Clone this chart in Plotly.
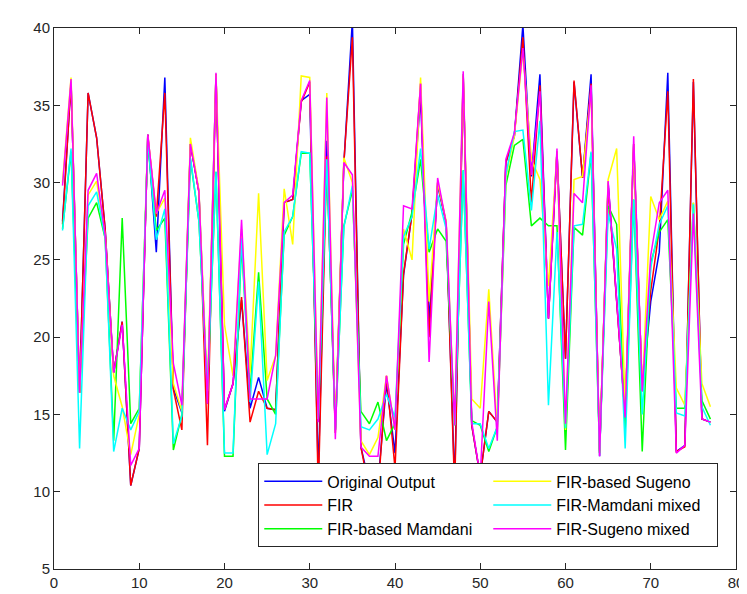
import plotly.graph_objects as go

x_vals = list(range(1, 78))

original_output = [27.5, 36.5, 16.4, 35.8, 32.9, 27.0, 17.7, 21.0, 10.4, 12.8,
                   33.1, 25.5, 36.8, 16.7, 15.1, 32.5, 29.4, 15.7, 37.0, 15.2,
                   17.0, 22.4, 15.4, 17.4, 15.4, 15.3, 28.7, 28.9, 35.3, 35.7,
                   11.0, 32.7, 14.0, 31.2, 40.5, 12.9, 10.5, 10.5, 17.0, 12.5,
                   24.0, 28.0, 35.5, 21.0, 29.8, 27.4, 10.5, 37.0, 14.3, 11.0,
                   15.2, 14.5, 31.3, 33.0, 40.2, 30.4, 37.0, 21.2, 32.0, 18.6,
                   36.5, 30.3, 37.0, 12.3, 30.0, 22.5, 14.8, 32.5, 16.5, 22.3,
                   25.5, 37.1, 12.6, 13.0, 36.5, 14.7, 14.5]

fir = [27.3, 36.5, 16.4, 35.8, 32.9, 27.0, 17.7, 21.0, 10.4, 12.8,
       33.1, 27.8, 35.8, 16.6, 14.0, 32.5, 29.4, 13.0, 37.0, 15.3,
       17.0, 22.6, 14.5, 16.5, 15.4, 15.3, 28.7, 28.9, 35.2, 36.5,
       10.0, 31.7, 13.8, 31.3, 39.4, 12.9, 10.0, 10.0, 17.5, 11.5,
       24.1, 28.0, 36.4, 20.0, 30.0, 27.4, 10.0, 36.9, 14.3, 11.0,
       15.2, 14.5, 31.3, 33.0, 39.4, 28.7, 36.3, 21.2, 32.0, 18.6,
       36.6, 30.3, 36.4, 12.6, 29.8, 22.5, 14.8, 32.5, 16.5, 23.0,
       27.0, 35.9, 12.6, 12.9, 36.7, 14.7, 14.5]

fir_mamdani = [27.0, 32.0, 16.4, 27.7, 28.7, 26.4, 13.3, 27.7, 14.4, 15.4,
               32.5, 26.9, 27.7, 12.7, 15.0, 31.5, 27.5, 16.5, 30.7, 12.3,
               12.3, 26.0, 16.5, 24.2, 16.0, 15.0, 26.6, 27.8, 31.9, 31.9,
               14.7, 31.5, 14.0, 27.2, 29.5, 15.2, 14.4, 15.8, 13.3, 14.4,
               26.0, 28.1, 31.5, 25.5, 27.0, 26.2, 14.3, 30.8, 14.6, 14.3,
               12.6, 14.2, 29.8, 32.4, 32.8, 27.2, 27.7, 27.2, 27.2, 12.7,
               27.1, 26.6, 31.9, 12.5, 28.5, 27.3, 14.0, 28.9, 12.6, 24.8,
               26.8, 27.6, 15.4, 15.4, 28.7, 15.9, 14.7]

fir_sugeno = [30.0, 36.8, 16.4, 29.2, 30.1, 26.6, 17.5, 15.5, 12.4, 15.0,
              33.0, 28.0, 29.0, 17.0, 15.2, 32.9, 29.5, 16.5, 37.0, 20.8,
              17.5, 27.0, 17.7, 29.3, 17.2, 18.8, 29.6, 26.0, 36.9, 36.8,
              14.7, 35.8, 14.0, 31.6, 30.0, 13.3, 12.4, 13.5, 17.5, 14.0,
              27.0, 25.0, 36.8, 22.3, 30.0, 27.5, 14.3, 37.0, 16.0, 15.4,
              23.1, 14.0, 30.3, 33.0, 38.5, 31.5, 30.2, 23.3, 32.0, 14.0,
              30.2, 30.4, 36.0, 12.5, 30.2, 32.2, 15.5, 32.5, 16.5, 29.1,
              27.6, 28.8, 16.7, 15.6, 28.7, 17.0, 15.5]

fir_mamdani_mixed = [26.9, 32.2, 12.8, 28.5, 29.4, 26.4, 12.6, 15.4, 14.0, 15.2,
                     32.8, 26.3, 28.3, 13.1, 14.9, 31.6, 27.5, 16.6, 30.7, 12.5,
                     12.5, 26.4, 15.8, 23.6, 12.4, 14.4, 26.8, 27.8, 32.0, 31.9,
                     14.7, 31.5, 14.0, 27.1, 29.8, 14.2, 14.0, 14.7, 16.3, 14.8,
                     26.5, 27.8, 32.2, 25.7, 29.2, 27.0, 14.3, 30.8, 14.4, 14.4,
                     12.8, 14.2, 30.5, 33.3, 33.4, 28.2, 34.0, 15.6, 26.8, 14.1,
                     27.2, 27.3, 32.0, 12.5, 28.0, 25.7, 12.8, 28.9, 15.0, 24.5,
                     27.3, 28.5, 15.1, 14.9, 28.6, 15.5, 14.3]

fir_sugeno_mixed = [29.8, 36.7, 16.4, 29.5, 30.6, 26.6, 17.7, 20.8, 11.7, 12.8,
                    33.1, 28.0, 29.5, 18.3, 15.6, 32.5, 29.4, 15.7, 37.1, 15.3,
                    17.0, 27.6, 16.0, 16.0, 16.0, 18.8, 28.7, 29.2, 35.3, 36.6,
                    14.5, 35.5, 13.4, 31.3, 30.5, 12.9, 12.3, 12.3, 17.5, 14.0,
                    28.5, 28.3, 36.4, 18.4, 30.3, 27.4, 14.3, 37.2, 14.5, 11.0,
                    22.3, 13.3, 31.5, 33.2, 38.7, 30.5, 35.9, 21.2, 32.2, 14.4,
                    29.3, 28.7, 36.3, 12.3, 30.1, 22.4, 14.8, 33.0, 16.5, 25.3,
                    28.7, 29.5, 12.5, 13.0, 28.0, 14.7, 14.5]

series_names = ["Original Output", "FIR", "FIR-based Mamdani",
                "FIR-based Sugeno", "FIR-Mamdani mixed", "FIR-Sugeno mixed"]
series_data = [original_output, fir, fir_mamdani, fir_sugeno,
               fir_mamdani_mixed, fir_sugeno_mixed]
colors = ["#0000ff", "#ff0000", "#00ff00", "#ffff00", "#00ffff", "#ff00ff"]
# legend shown in two columns, column-major like the original
legend_ranks = [1, 3, 5, 2, 4, 6]

x_ticks = [0, 10, 20, 30, 40, 50, 60, 70, 80]
y_ticks = [5, 10, 15, 20, 25, 30, 35, 40]

fig = go.Figure()
for name, vals, col, rank in zip(series_names, series_data, colors, legend_ranks):
    fig.add_trace(go.Scatter(x=x_vals, y=vals, mode="lines", name=name,
                             line=dict(color=col, width=1.5),
                             legendrank=rank))

axis_common = dict(showgrid=False, zeroline=False, showline=True, mirror="ticks",
                   linecolor="#262626", linewidth=1, ticks="inside", ticklen=6,
                   tickcolor="#262626", tickfont=dict(family="Liberation Sans", size=15, color="#262626"))

fig.update_xaxes(range=[0, 80], tickvals=x_ticks, **axis_common)
fig.update_yaxes(range=[5, 40], tickvals=y_ticks, **axis_common)

fig.update_layout(
    width=747, height=594,
    margin=dict(l=46, r=11, t=15, b=33),
    paper_bgcolor="white", plot_bgcolor="white",
    font=dict(family="Liberation Sans", color="#262626"),
    legend=dict(orientation="h", x=0.974, y=0.04, xanchor="right", yanchor="bottom",
                bgcolor="white", bordercolor="#262626", borderwidth=1,
                itemwidth=58, entrywidth=156, entrywidthmode="pixels",
                font=dict(family="Liberation Sans", size=16, color="#000000"),
                traceorder="normal"),
)

fig.write_html("out.html")
